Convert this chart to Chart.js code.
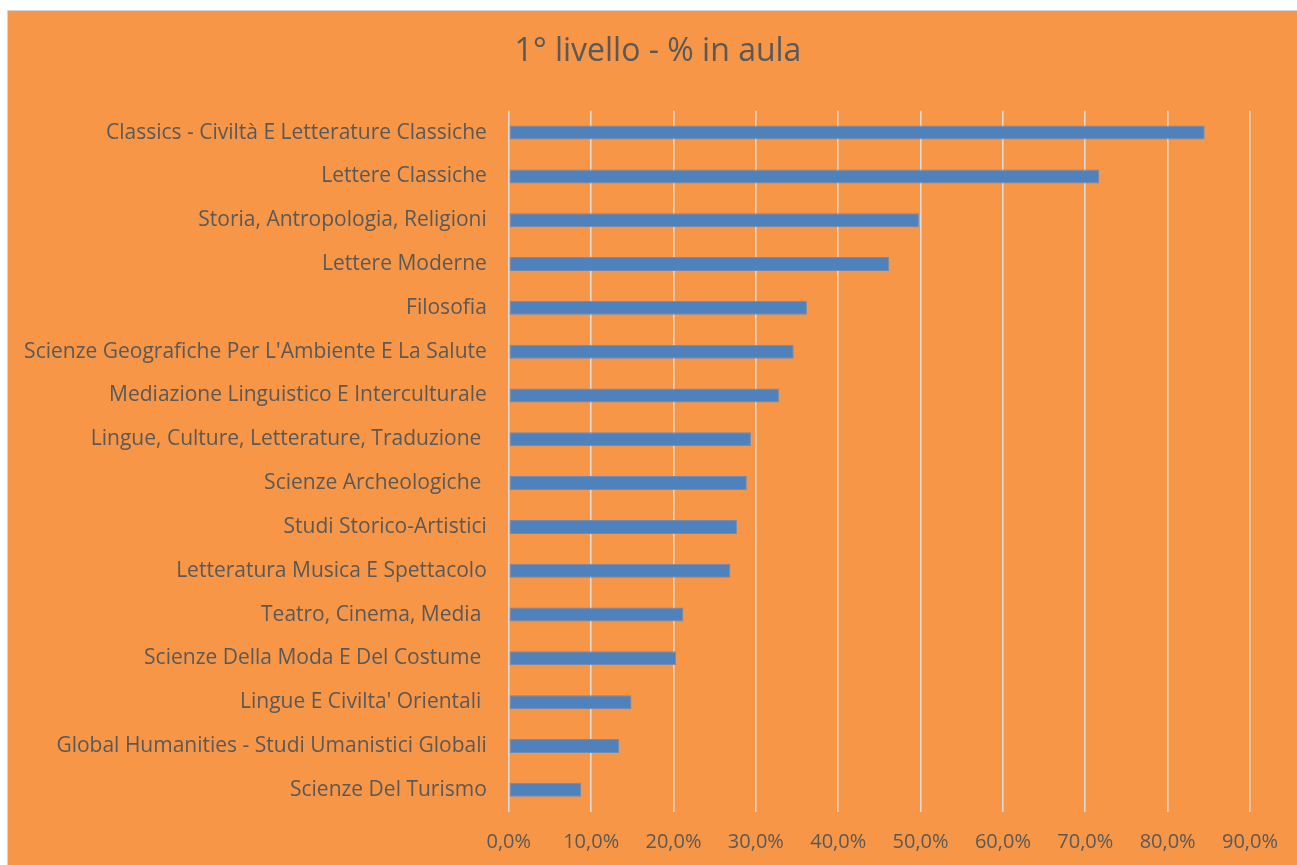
<!DOCTYPE html>
<html>
<head>
<meta charset="utf-8">
<script src="https://cdn.jsdelivr.net/npm/chart.js@4"></script>
<style>
  html, body { margin: 0; padding: 0; background: #ffffff; width: 1297px; height: 865px; overflow: hidden; }
  #frame { position: absolute; left: 7px; top: 10px; width: 1300px; height: 870px; background: #F79646; border: 1px solid #d4d4d4; }
  #c { position: absolute; left: 0; top: 0; }
</style>
</head>
<body>
<div id="frame"><canvas id="c" width="1289" height="854"></canvas></div>
<script>
const categories = [
  "Classics - Civiltà E Letterature Classiche",
  "Lettere Classiche",
  "Storia, Antropologia, Religioni",
  "Lettere Moderne",
  "Filosofia",
  "Scienze Geografiche Per L'Ambiente E La Salute",
  "Mediazione Linguistico E Interculturale",
  "Lingue, Culture, Letterature, Traduzione ",
  "Scienze Archeologiche ",
  "Studi Storico-Artistici",
  "Letteratura Musica E Spettacolo",
  "Teatro, Cinema, Media ",
  "Scienze Della Moda E Del Costume ",
  "Lingue E Civilta' Orientali ",
  "Global Humanities - Studi Umanistici Globali",
  "Scienze Del Turismo"
];
const percentInAula = [84.5, 71.7, 49.8, 46.2, 36.2, 34.6, 32.8, 29.4, 28.9, 27.7, 26.9, 21.2, 20.3, 14.9, 13.4, 8.8];
const chartTitle = "1° livello - % in aula";
const tickMin = 0, tickMax = 90, tickStep = 10;

const textColor = "#595959";
const fontFamily = "'Open Sans', Lato, sans-serif";

const shiftTitle = {
  id: "shiftTitle",
  afterLayout(chart) {
    const t = chart.titleBlock;
    if (t) { t.left += 29; t.right += 29; }
  }
};

new Chart(document.getElementById("c"), {
  type: "bar",
  data: {
    labels: categories,
    datasets: [{
      data: percentInAula,
      backgroundColor: "#4F81BD",
      borderColor: "#6f8db5",
      borderWidth: 1,
      borderSkipped: false,
      barPercentage: 0.32,
      categoryPercentage: 1.0
    }]
  },
  plugins: [shiftTitle],
  options: {
    indexAxis: "y",
    responsive: false,
    animation: false,
    layout: { padding: { left: 0, right: 47, top: 0, bottom: 0 } },
    plugins: {
      legend: { display: false },
      tooltip: { enabled: false },
      title: {
        display: true,
        text: chartTitle,
        color: textColor,
        font: { family: fontFamily, size: 32, weight: "normal" },
        padding: { top: 21.5, bottom: 39.8 }
      }
    },
    scales: {
      x: {
        min: tickMin, max: tickMax,
        ticks: {
          stepSize: tickStep,
          color: textColor,
          font: { family: fontFamily, size: 20 },
          padding: 19,
          callback: v => v.toFixed(1).replace(".", ",") + "%"
        },
        grid: { color: "#dedad6", lineWidth: 1.6, drawTicks: false },
        border: { display: false },
        afterFit: s => { s.height = 53.3; }
      },
      y: {
        ticks: {
          color: textColor,
          font: { family: fontFamily, size: 21 },
          padding: 22,
          autoSkip: false
        },
        grid: { display: false, drawTicks: false },
        border: { display: false },
        afterFit: s => { s.width = 500.8; }
      }
    }
  }
});
</script>
</body>
</html>
